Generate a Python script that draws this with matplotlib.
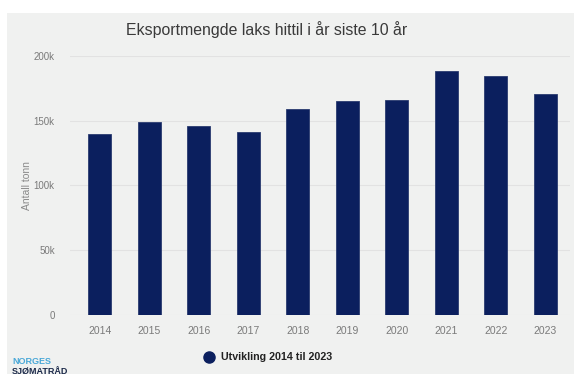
import numpy as np
import matplotlib.pyplot as plt
from matplotlib.patches import Rectangle
from matplotlib.lines import Line2D

plt.rcParams['font.family'] = ['Liberation Sans', 'DejaVu Sans']

# === Data ===
years = ["2014", "2015", "2016", "2017", "2018", "2019", "2020", "2021", "2022", "2023"]
export_tonn = [139500, 149000, 146000, 141000, 159000, 165000, 166000, 188000, 184000, 170500]
y_ticks = [0, 50000, 100000, 150000, 200000]
y_tick_labels = ["0", "50k", "100k", "150k", "200k"]

BG = "#f0f1f0"
NAVY = "#0b1f5e"

fig = plt.figure(figsize=(5.74, 3.74), dpi=100, facecolor="white")
fig.patches.append(Rectangle((7 / 574, 0), 1, 1 - 13 / 374, transform=fig.transFigure,
                             facecolor=BG, edgecolor="none", zorder=-5))

ax = fig.add_axes([70 / 574, 1 - 315 / 374, 500 / 574, (315 - 55.7) / 374])
ax.set_facecolor(BG)
x = np.arange(len(years))
ax.bar(x, export_tonn, width=0.47, color=NAVY, edgecolor="#2a3b70", linewidth=0.6, zorder=3)

ax.set_xlim(-0.6, 9.5)
ax.set_ylim(0, 200000)
ax.set_yticks(y_ticks)
ax.set_yticklabels(y_tick_labels)
ax.set_xticks(x)
ax.set_xticklabels(years)
ax.tick_params(axis="both", length=0, labelsize=7.5, colors="#7a7a7a")
ax.tick_params(axis="y", pad=11, labelsize=7)
ax.tick_params(axis="x", pad=8)
ax.grid(axis="y", color="#e2e2e2", linewidth=0.8, zorder=0)
for s in ax.spines.values():
    s.set_visible(False)
ax.set_ylabel("Antall tonn", fontsize=7.5, color="#8a8a8a", labelpad=1)

fig.text(267 / 574, 1 - 30 / 374, "Eksportmengde laks hittil i år siste 10 år",
         ha="center", va="center", fontsize=11.4, color="#3a3a3a")

# legend
fig.add_artist(Line2D([209 / 574], [1 - 357 / 374], marker="o", markersize=8,
                      color=NAVY, linestyle="none", transform=fig.transFigure))
fig.text(221 / 574, 1 - 357 / 374, "Utvikling 2014 til 2023", ha="left", va="center",
         fontsize=7.7, fontweight="bold", color="#222222")

# logo
fig.text(12 / 574, 1 - 361 / 374, "NORGES", ha="left", va="center",
         fontsize=6.5, fontweight="bold", color="#4aa8d8")
fig.text(12 / 574, 1 - 372 / 374, "SJØMATRÅD", ha="left", va="center",
         fontsize=6.5, fontweight="bold", color="#1c2a4a")

fig.savefig("out.png", dpi=100, facecolor="white")
